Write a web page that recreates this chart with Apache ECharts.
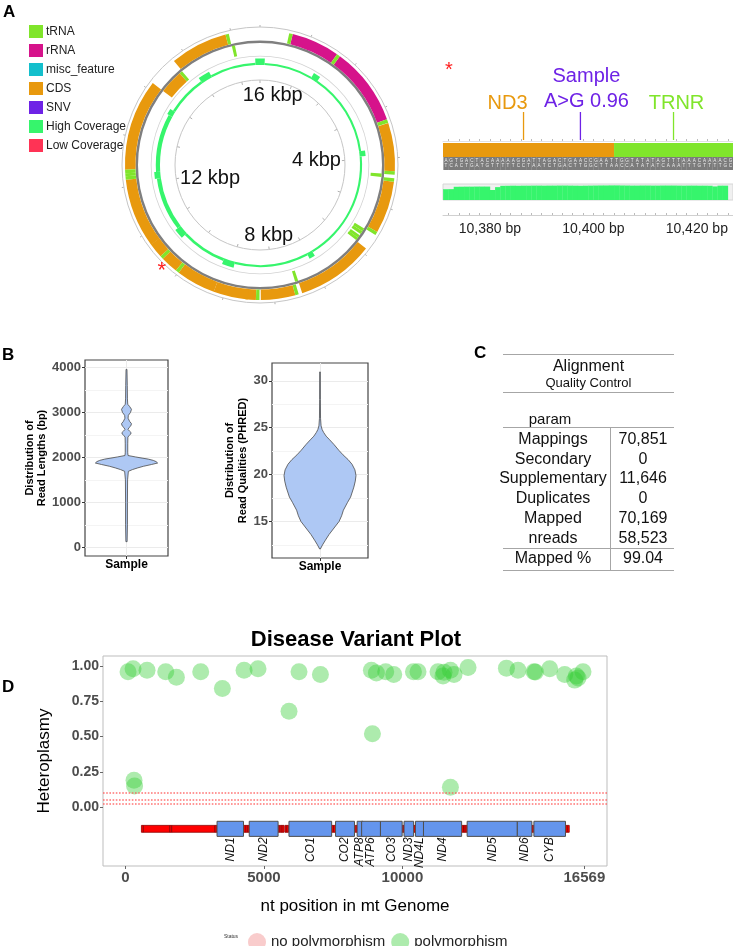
<!DOCTYPE html>
<html>
<head>
    <meta charset="UTF-8">
    <title>mtDNA sample report</title>
    <style>
        html, body {
            margin: 0;
            padding: 0;
            background: #fff;
        }

        #main {
            width: 733px;
            height: 946px;
        }
    </style>
    <script src="https://cdn.jsdelivr.net/npm/echarts@6/dist/echarts.min.js"></script>
</head>
<body>
<div id="main"></div>
<script>
    var FONT = '"Liberation Sans", Arial, sans-serif';
    var GENOME_LEN = 16569;

    // rCRS annotation
    var geneNames = ['TRNF', 'RNR1', 'TRNV', 'RNR2', 'TRNL1', 'ND1', 'TRNI', 'TRNQ', 'TRNM', 'ND2',
        'TRNW', 'TRNA', 'TRNN', 'TRNC', 'TRNY', 'CO1', 'TRNS1', 'TRND', 'CO2', 'TRNK',
        'ATP8', 'ATP6', 'CO3', 'TRNG', 'ND3', 'TRNR', 'ND4L', 'ND4', 'TRNH', 'TRNS2',
        'TRNL2', 'ND5', 'ND6', 'TRNE', 'CYB', 'TRNT', 'TRNP'];
    var geneStart = [577, 648, 1602, 1671, 3230, 3307, 4263, 4329, 4402, 4470,
        5512, 5587, 5657, 5761, 5826, 5904, 7446, 7518, 7586, 8295,
        8366, 8527, 9207, 9991, 10059, 10405, 10470, 10760, 12138, 12207,
        12266, 12337, 14149, 14674, 14747, 15888, 15956];
    var geneEnd = [647, 1601, 1670, 3229, 3304, 4262, 4331, 4400, 4469, 5511,
        5579, 5655, 5729, 5826, 5891, 7445, 7514, 7585, 8269, 8364,
        8572, 9207, 9990, 10058, 10404, 10469, 10766, 12137, 12206, 12265,
        12336, 14148, 14673, 14742, 15887, 15953, 16023];
    var geneStrand = [1, 1, 1, 1, 1, 1, 1, -1, 1, 1,
        1, -1, -1, -1, -1, 1, -1, 1, 1, 1,
        1, 1, 1, 1, 1, 1, 1, 1, 1, 1,
        1, 1, -1, -1, 1, 1, -1];
    var geneType = ['tRNA', 'rRNA', 'tRNA', 'rRNA', 'tRNA', 'CDS', 'tRNA', 'tRNA', 'tRNA', 'CDS',
        'tRNA', 'tRNA', 'tRNA', 'tRNA', 'tRNA', 'CDS', 'tRNA', 'tRNA', 'CDS', 'tRNA',
        'CDS', 'CDS', 'CDS', 'tRNA', 'CDS', 'tRNA', 'CDS', 'CDS', 'tRNA', 'tRNA',
        'tRNA', 'CDS', 'CDS', 'tRNA', 'CDS', 'tRNA', 'tRNA'];

    // coverage around the circle: segment start, end, depth
    var covStart = [0, 120, 1400, 1580, 3780, 3920, 6850, 7000, 8950, 9250, 10450, 10700, 12080, 12250, 13750, 13900, 14950, 15250, 16450];
    var covEnd = [120, 1400, 1580, 3780, 3920, 6850, 7000, 8950, 9250, 10450, 10700, 12080, 12250, 13750, 13900, 14950, 15250, 16450, 16569];
    var covDepth = [3300, 1050, 3300, 1050, 3000, 1050, 3000, 1100, 3000, 1400, 3400, 2000, 3000, 2100, 2900, 1300, 3200, 1200, 3300];
    var kbpTicks = [4000, 8000, 12000, 16000];

    // zoomed track around the variant
    var snvPos = [10398];
    var snvLabel = ['Sample\nA>G 0.96'];
    var annoNames = ['ND3', 'TRNR'];
    var annoPos = [10387, 10416];
    var annoType = ['CDS', 'tRNA'];
    var seqStart = 10372;
    var seqTop = 'AGTGACTACAAAAAGGATTAGACTGAACCGAATTGGTATATAGTTTAAACAAAACG';
    var seqBottom = 'TCACTGATGTTTTTCCTAATCTGACTTGGCTTAACCATATATCAAATTTGTTTTGC';
    var trackCovStart = 10371;
    var trackCovDepth = [1540, 1550, 1560, 1900, 1910, 1920, 1920, 1930, 1930, 1930,
        1440, 1850, 2040, 2050, 2060, 2050, 2060, 2060, 2070, 2070,
        2060, 2070, 2070, 2080, 2080, 2070, 2060, 2050, 2060, 2070,
        2080, 2090, 2090, 2100, 2100, 2090, 2080, 2070, 2070, 2080,
        2080, 2070, 2070, 2080, 2080, 2080, 2070, 2060, 2070, 2070,
        2060, 2060, 2050, 1950, 2060, 2060];
    var trackTicks = [10380, 10400, 10420];

    // violins: y value, relative density
    var lenY = [125, 500, 1000, 1500, 1689, 1727, 1765, 1800, 1840, 1873, 1905, 1932, 1960, 1983, 2010, 2040,
        2100, 2300, 2450, 2480, 2515, 2547, 2580, 2620, 2660, 2700, 2748, 2800, 2870, 2934, 3000, 3068,
        3130, 3180, 3300, 3600, 3955];
    var lenDens = [0.02, 0.03, 0.03, 0.035, 0.06, 0.19, 0.36, 0.54, 0.8, 1.0, 0.95, 0.86, 0.7, 0.5, 0.28, 0.05,
        0.04, 0.04, 0.045, 0.08, 0.13, 0.15, 0.1, 0.05, 0.08, 0.14, 0.16, 0.1, 0.05, 0.06, 0.13, 0.16,
        0.1, 0.04, 0.03, 0.025, 0.015];
    var qualY = [12.06, 12.5, 13.0, 13.6, 14.3, 15.0, 15.6, 16.2, 17.0, 17.6, 18.66, 19.3, 19.9, 20.5, 21.1,
        21.6, 22.1, 22.6, 23.2, 23.7, 24.1, 24.5, 24.8, 25.2, 26, 28, 30.95];
    var qualDens = [0.01, 0.07, 0.15, 0.25, 0.39, 0.53, 0.6, 0.65, 0.76, 0.85, 0.94, 0.98, 1.0, 0.97, 0.89,
        0.78, 0.64, 0.52, 0.39, 0.27, 0.17, 0.1, 0.06, 0.03, 0.015, 0.01, 0.008];

    // alignment QC table
    var qcParams = ['Mappings', 'Secondary', 'Supplementary', 'Duplicates', 'Mapped', 'nreads', 'Mapped %'];
    var qcValues = [70851, 0, 11646, 0, 70169, 58523, 99.04];

    // variants (position, heteroplasmy)
    var varPos = [94, 275, 780, 1455, 1840, 2718, 3500, 4283, 4787, 5906, 6267, 7040, 8880, 8917, 9061, 9397,
        9686, 10398, 10563, 11285, 11466, 11502, 11733, 11863, 12369, 13755, 14173, 14751, 14801, 15318,
        15859, 16220, 16281, 16340, 16520, 310, 330, 11733];
    var varHet = [0.96, 0.98, 0.97, 0.96, 0.92, 0.96, 0.84, 0.97, 0.98, 0.68, 0.96, 0.94, 0.97, 0.52, 0.95, 0.96,
        0.94, 0.96, 0.96, 0.96, 0.93, 0.955, 0.97, 0.94, 0.99, 0.985, 0.97, 0.96, 0.957, 0.98,
        0.94, 0.90, 0.93, 0.915, 0.96, 0.19, 0.15, 0.14];
    var hetCutoffs = [0.1, 0.05, 0.02];
    var plotTicksX = [0, 5000, 10000, 16569];
    var plotTicksY = [0, 0.25, 0.5, 0.75, 1];

    var typeColors = {
        'tRNA': '#80e52b', 'rRNA': '#d6138b', 'misc_feature': '#14bfcc', 'CDS': '#e8990e',
        'SNV': '#6e22e6', 'High Coverage': '#36f56c', 'Low Coverage': '#ff3355'
    };

    // ring radii in px (polar radius axis is 1:1 with px)
    var RING_PLUS = [124.5, 135];
    var RING_MINUS = [111, 122];
    var COV_BASE = 100;
    var COV_PX = 500;    // depth per px
    var ANNO_ALIGN = ['right', 'center'];
    var ANNO_DX = [4, 3];

    function plain(v) { return String(v); }

    function arcShape(params, api, s, e, r0, r1) {
        var cs = params.coordSys;
        var a = api.coord([r1, s]);
        var b = api.coord([r1, e]);
        var c = api.coord([r0, s]);
        var sa = Math.atan2(a[1] - cs.cy, a[0] - cs.cx);
        var ea = Math.atan2(b[1] - cs.cy, b[0] - cs.cx);
        if (e - s >= GENOME_LEN) {
            ea = sa + Math.PI * 2;
        } else {
            while (ea <= sa) ea += Math.PI * 2;
        }
        return {
            cx: cs.cx, cy: cs.cy,
            r0: Math.hypot(c[0] - cs.cx, c[1] - cs.cy),
            r: Math.hypot(a[0] - cs.cx, a[1] - cs.cy),
            startAngle: sa, endAngle: ea, clockwise: true
        };
    }

    function genesOf(type) {
        var out = [];
        for (var i = 0; i < geneNames.length; i++) {
            if (geneType[i] === type) out.push([geneStart[i], geneEnd[i], geneStrand[i]]);
        }
        return out;
    }

    function ringSeries(type) {
        return {
            type: 'custom', name: type, coordinateSystem: 'polar', polarIndex: 0, silent: true,
            itemStyle: {color: typeColors[type]},
            data: genesOf(type),
            renderItem: function (params, api) {
                var band = api.value(2) > 0 ? RING_PLUS : RING_MINUS;
                return {
                    type: 'sector',
                    shape: arcShape(params, api, api.value(0) - 1, api.value(1), band[0], band[1]),
                    style: {fill: typeColors[type]}
                };
            }
        };
    }

    function emptySeries(name, polar) {
        var s = {
            type: 'custom', name: name, silent: true, itemStyle: {color: typeColors[name]}, data: [],
            renderItem: function () { return null; }
        };
        if (polar) {
            s.coordinateSystem = 'polar';
            s.polarIndex = 0;
        }
        return s;
    }

    function violinSeries(xi, yi, ys, dens) {
        return {
            type: 'custom', xAxisIndex: xi, yAxisIndex: yi, silent: true,
            data: [[0, ys[0]]],
            renderItem: function (params, api) {
                var pts = [], i;
                for (i = 0; i < ys.length; i++) pts.push(api.coord([dens[i] * 0.75, ys[i]]));
                for (i = ys.length - 1; i >= 0; i--) pts.push(api.coord([-dens[i] * 0.75, ys[i]]));
                return {
                    type: 'polygon', shape: {points: pts},
                    style: {fill: '#aec8f4', stroke: '#4a4a4a', lineWidth: 0.8}
                };
            }
        };
    }

    var rulerTicks = [];
    for (var t = 10372; t <= 10426; t += 2) rulerTicks.push(t);

    var seqData = [];
    for (var k = 0; k < seqTop.length; k++) seqData.push([seqStart + k, k]);

    var trackCovData = trackCovDepth.map(function (d, i) { return [trackCovStart + i, d]; });
    var covData = covDepth.map(function (d, i) { return [covStart[i], covEnd[i], d]; });
    var varData = varPos.map(function (p, i) { return [p, varHet[i]]; });
    var geneAll = geneNames.map(function (n, i) { return [geneStart[i], geneEnd[i], i]; });

    var bigLabel = {fontSize: 13, fontWeight: 'bold', color: '#4d4d4d', fontFamily: FONT, formatter: plain};

    // table + panel letters as graphic elements
    var gfx = [];
    function txt(x, y, s, size, extra) {
        var st = {text: s, fontSize: size, fontFamily: FONT, fill: '#111', align: 'center', verticalAlign: 'middle'};
        for (var key in extra) st[key] = extra[key];
        gfx.push({type: 'text', x: x, y: y, style: st, silent: true});
    }
    function hline(y, x1, x2) {
        gfx.push({type: 'line', shape: {x1: x1, y1: y, x2: x2, y2: y}, style: {stroke: '#a6a6a6', lineWidth: 1}, silent: true});
    }
    txt(3, 4, 'A', 17, {fontWeight: 'bold', align: 'left', verticalAlign: 'top', fill: '#000'});
    txt(2, 347, 'B', 17, {fontWeight: 'bold', align: 'left', verticalAlign: 'top', fill: '#000'});
    txt(474, 345, 'C', 17, {fontWeight: 'bold', align: 'left', verticalAlign: 'top', fill: '#000'});
    txt(2, 679, 'D', 17, {fontWeight: 'bold', align: 'left', verticalAlign: 'top', fill: '#000'});
    txt(449, 60, '*', 20, {fill: '#ff2020', verticalAlign: 'top'});

    hline(354.5, 503, 674);
    txt(588.5, 367, 'Alignment', 16, {});
    txt(588.5, 383.5, 'Quality Control', 13, {});
    hline(392.5, 503, 674);
    txt(550, 419.5, 'param', 15, {});
    hline(427.5, 503, 674);
    qcParams.forEach(function (p, i) {
        var y = 439.3 + i * 19.8;
        txt(553, y, p, 16, {});
        txt(643, y, qcValues[i].toLocaleString('en-US'), 16, {});
    });
    hline(548.5, 503, 674);
    hline(570.5, 503, 674);
    gfx.push({type: 'line', shape: {x1: 610.5, y1: 427.5, x2: 610.5, y2: 570.5}, style: {stroke: '#a6a6a6', lineWidth: 1}, silent: true});

    txt(356, 640, 'Disease Variant Plot', 22, {fontWeight: 'bold', fill: '#000'});
    txt(231, 937, 'Status', 5, {fill: '#333'});

    var chart = echarts.init(document.getElementById('main'), null, {renderer: 'canvas'});

    var option = {
        animation: false,
        backgroundColor: '#ffffff',
        textStyle: {fontFamily: FONT},
        legend: [
            {
                data: ['tRNA', 'rRNA', 'misc_feature', 'CDS', 'SNV', 'High Coverage', 'Low Coverage'],
                orient: 'vertical', left: 24, top: 20, icon: 'rect',
                itemWidth: 14, itemHeight: 13, itemGap: 6, selectedMode: false,
                textStyle: {fontSize: 12, color: '#222', fontFamily: FONT, padding: [0, 0, 0, -2]}
            },
            {
                data: ['no polymorphism', 'polymorphism'],
                orient: 'horizontal', left: 243, top: 928, icon: 'circle',
                itemWidth: 18, itemHeight: 18, itemGap: 6, selectedMode: false,
                textStyle: {fontSize: 15, color: '#222', fontFamily: FONT}
            }
        ],
        polar: [
            {center: [260, 165], radius: 138},
            {center: [260, 165], radius: 85}
        ],
        angleAxis: [
            {
                polarIndex: 0, type: 'value', min: 0, max: GENOME_LEN, startAngle: 90, clockwise: true, interval: 1000,
                axisLine: {lineStyle: {color: '#c6c6c6', width: 1}},
                axisTick: {length: 2, lineStyle: {color: '#b0b0b0'}},
                axisLabel: {show: false}, splitLine: {show: false}
            },
            {
                polarIndex: 1, type: 'value', min: 0, max: GENOME_LEN, startAngle: 90, clockwise: true, interval: 1000,
                axisLine: {lineStyle: {color: '#c6c6c6', width: 1}},
                axisTick: {inside: true, length: 3, lineStyle: {color: '#b0b0b0'}},
                axisLabel: {show: false}, splitLine: {show: false}
            }
        ],
        radiusAxis: [
            {polarIndex: 0, type: 'value', min: 0, max: 138, show: false, splitLine: {show: false}},
            {polarIndex: 1, type: 'value', min: 0, max: 85, show: false, splitLine: {show: false}}
        ],
        grid: [
            {left: 443, right: 0, top: 141, height: 74},
            {left: 443, right: 0, top: 184, height: 16, show: true, backgroundColor: '#f0f0f0', borderColor: '#d6d6d6', borderWidth: 1},
            {left: 85, top: 360, width: 83, height: 196, show: true, borderColor: '#444', borderWidth: 1.2},
            {left: 272, top: 363, width: 96, height: 195, show: true, borderColor: '#444', borderWidth: 1.2},
            {left: 103, right: 126, top: 656, bottom: 80, show: true, borderColor: '#bdbdbd', borderWidth: 1}
        ],
        xAxis: [
            {
                gridIndex: 0, type: 'value', min: 10370.93, max: 10427.0, position: 'bottom',
                axisLine: {onZero: false, lineStyle: {color: '#d0d0d0'}},
                axisTick: {inside: true, length: 2, lineStyle: {color: '#bbb'}, customValues: rulerTicks},
                axisLabel: {
                    customValues: trackTicks, fontSize: 14, color: '#222', margin: 7,
                    formatter: function (v) { return v.toLocaleString('en-US') + ' bp'; }
                },
                splitLine: {show: false}
            },
            {
                gridIndex: 0, type: 'value', min: 10370.93, max: 10427.0, position: 'top',
                axisLine: {onZero: false, lineStyle: {color: '#e2e2e2'}},
                axisTick: {length: 2, lineStyle: {color: '#bbb'}, customValues: rulerTicks},
                axisLabel: {show: false}, splitLine: {show: false}
            },
            {gridIndex: 1, type: 'value', min: 10370.93, max: 10427.0, show: false},
            {
                gridIndex: 2, type: 'value', min: -1, max: 1, interval: 1, position: 'bottom',
                axisLine: {show: false, onZero: false},
                axisTick: {length: 3, lineStyle: {color: '#333'}, customValues: [0]},
                axisLabel: {
                    margin: 3, fontSize: 12, fontWeight: 'bold', color: '#000',
                    formatter: function (v) { return v === 0 ? 'Sample' : ''; }
                },
                splitLine: {lineStyle: {color: '#ebebeb'}}
            },
            {
                gridIndex: 3, type: 'value', min: -1, max: 1, interval: 1, position: 'bottom',
                axisLine: {show: false, onZero: false},
                axisTick: {length: 3, lineStyle: {color: '#333'}, customValues: [0]},
                axisLabel: {
                    margin: 3, fontSize: 12, fontWeight: 'bold', color: '#000',
                    formatter: function (v) { return v === 0 ? 'Sample' : ''; }
                },
                splitLine: {lineStyle: {color: '#ebebeb'}}
            },
            {
                gridIndex: 4, type: 'value', min: -810, max: 17386, position: 'bottom',
                axisLine: {show: false, onZero: false},
                axisTick: {length: 3, lineStyle: {color: '#666'}, customValues: plotTicksX},
                axisLabel: {customValues: plotTicksX, margin: 4, fontSize: 15, fontWeight: 'bold', color: '#4d4d4d', formatter: plain},
                splitLine: {show: false},
                name: 'nt position in mt Genome', nameLocation: 'middle', nameGap: 32,
                nameTextStyle: {fontSize: 17, color: '#000'}
            }
        ],
        yAxis: [
            {gridIndex: 0, type: 'value', inverse: true, min: 0, max: 74, show: false},
            {gridIndex: 1, type: 'value', min: 0, max: 2300, show: false},
            {
                gridIndex: 2, type: 'value', min: -194, max: 4164, splitNumber: 4, position: 'left',
                axisLine: {show: false, onZero: false},
                axisTick: {length: 3, lineStyle: {color: '#333'}, customValues: [0, 1000, 2000, 3000, 4000]},
                axisLabel: Object.assign({margin: 4, showMinLabel: false, showMaxLabel: false}, bigLabel),
                splitLine: {lineStyle: {color: '#ebebeb'}},
                minorTick: {show: false, splitNumber: 2},
                minorSplitLine: {show: true, lineStyle: {color: '#f4f4f4'}},
                name: 'Distribution of\nRead Lengths (bp)', nameLocation: 'middle', nameRotate: 90, nameGap: 27,
                nameTextStyle: {fontSize: 11, fontWeight: 'bold', color: '#000', lineHeight: 12}
            },
            {
                gridIndex: 3, type: 'value', min: 11.1, max: 31.9, splitNumber: 4, position: 'left',
                axisLine: {show: false, onZero: false},
                axisTick: {length: 3, lineStyle: {color: '#333'}, customValues: [15, 20, 25, 30]},
                axisLabel: Object.assign({margin: 4, showMinLabel: false, showMaxLabel: false}, bigLabel),
                splitLine: {lineStyle: {color: '#ebebeb'}},
                minorTick: {show: false, splitNumber: 2},
                minorSplitLine: {show: true, lineStyle: {color: '#f4f4f4'}},
                name: 'Distribution of\nRead Qualities (PHRED)', nameLocation: 'middle', nameRotate: 90, nameGap: 12,
                nameTextStyle: {fontSize: 11, fontWeight: 'bold', color: '#000', lineHeight: 13}
            },
            {
                gridIndex: 4, type: 'value', min: -0.418, max: 1.071, position: 'left',
                axisLine: {show: false, onZero: false},
                axisTick: {length: 3, lineStyle: {color: '#666'}, customValues: plotTicksY},
                axisLabel: {
                    customValues: plotTicksY, margin: 4, fontSize: 14, fontWeight: 'bold', color: '#4d4d4d',
                    formatter: function (v) { return v.toFixed(2); }
                },
                splitLine: {show: false},
                name: 'Heteroplasmy', nameLocation: 'middle', nameRotate: 90, nameGap: 50,
                nameTextStyle: {fontSize: 17, color: '#000'}
            }
        ],
        series: [
            // ---- circular genome map
            {
                type: 'custom', coordinateSystem: 'polar', polarIndex: 0, silent: true,
                data: [[0, GENOME_LEN]],
                renderItem: function (params, api) {
                    return {
                        type: 'group', children: [
                            {type: 'sector', shape: arcShape(params, api, api.value(0), api.value(1), 122, 124.5), style: {fill: '#7f7f7f'}},
                            {type: 'sector', shape: arcShape(params, api, api.value(0), api.value(1), 108.5, 109.3), style: {fill: '#d2d2d2'}}
                        ]
                    };
                }
            },
            ringSeries('CDS'),
            ringSeries('rRNA'),
            ringSeries('tRNA'),
            emptySeries('misc_feature', true),
            {
                type: 'custom', name: 'High Coverage', coordinateSystem: 'polar', polarIndex: 0, silent: true,
                itemStyle: {color: typeColors['High Coverage']},
                data: covData,
                renderItem: function (params, api) {
                    return {
                        type: 'sector',
                        shape: arcShape(params, api, api.value(0), api.value(1), COV_BASE, COV_BASE + api.value(2) / COV_PX),
                        style: {fill: typeColors['High Coverage']}
                    };
                }
            },
            emptySeries('Low Coverage', true),
            {
                type: 'custom', coordinateSystem: 'polar', polarIndex: 1, silent: true,
                data: kbpTicks.map(function (v) { return [v]; }),
                renderItem: function (params, api) {
                    var cs = params.coordSys;
                    var v = api.value(0);
                    var p = api.coord([81, v]);
                    var dx = p[0] - cs.cx, dy = p[1] - cs.cy, rr = Math.hypot(dx, dy);
                    var align = Math.abs(dx) / rr < 0.15 ? 'center' : (dx > 0 ? 'right' : 'left');
                    var valign = Math.abs(dy) / rr < 0.3 ? 'middle' : (dy > 0 ? 'bottom' : 'top');
                    return {
                        type: 'text', x: p[0], y: p[1],
                        style: {text: (v / 1000) + ' kbp', fontSize: 20, fontFamily: FONT, fill: '#111', align: align, verticalAlign: valign}
                    };
                }
            },
            {
                type: 'custom', coordinateSystem: 'polar', polarIndex: 0, silent: true,
                data: snvPos.map(function (p) { return [p]; }),
                renderItem: function (params, api) {
                    var p = api.coord([141, api.value(0)]);
                    return {
                        type: 'text', x: p[0] + 3, y: p[1] - 3,
                        style: {text: '*', fontSize: 22, fontFamily: FONT, fill: '#ff2020', align: 'center', verticalAlign: 'top'}
                    };
                }
            },

            // ---- zoomed linear track
            {
                type: 'custom', xAxisIndex: 0, yAxisIndex: 0, silent: true, clip: true,
                data: geneAll,
                renderItem: function (params, api) {
                    var i = api.value(2);
                    var a = api.coord([api.value(0) - 1, 2]);
                    var b = api.coord([api.value(1), 16]);
                    return {
                        type: 'rect', shape: {x: a[0], y: a[1], width: b[0] - a[0], height: b[1] - a[1]},
                        style: {fill: typeColors[geneType[i]]}
                    };
                }
            },
            {
                type: 'custom', xAxisIndex: 0, yAxisIndex: 0, silent: true, clip: true,
                data: seqData,
                renderItem: function (params, api) {
                    var i = api.value(1);
                    var a = api.coord([api.value(0) - 1, 16]);
                    var b = api.coord([api.value(0), 29]);
                    var cx = (a[0] + b[0]) / 2;
                    var tStyle = {fontSize: 4.6, fontFamily: FONT, fill: '#ececec', align: 'center', verticalAlign: 'middle'};
                    return {
                        type: 'group', children: [
                            {type: 'rect', shape: {x: a[0], y: a[1], width: b[0] - a[0] + 0.3, height: b[1] - a[1]}, style: {fill: '#7b7b7b'}},
                            {type: 'text', x: cx, y: api.coord([0, 19.7])[1], style: Object.assign({text: seqTop.charAt(i)}, tStyle)},
                            {type: 'text', x: cx, y: api.coord([0, 25])[1], style: Object.assign({text: seqBottom.charAt(i)}, tStyle)}
                        ]
                    };
                }
            },
            {
                type: 'custom', xAxisIndex: 0, yAxisIndex: 0, silent: true,
                data: annoPos.map(function (p, i) { return [p, i]; }),
                renderItem: function (params, api) {
                    var i = api.value(1);
                    var x = api.coord([api.value(0) - 0.5, 0])[0];
                    var y0 = api.coord([0, -1])[1], y1 = api.coord([0, -29])[1];
                    var color = typeColors[annoType[i]];
                    return {
                        type: 'group', children: [
                            {type: 'line', shape: {x1: x, y1: y0, x2: x, y2: y1}, style: {stroke: color, lineWidth: 1.3}},
                            {type: 'text', x: x + ANNO_DX[i], y: y1 + 1, style: {text: annoNames[i], fill: color, fontSize: 20, fontFamily: FONT, align: ANNO_ALIGN[i], verticalAlign: 'bottom'}}
                        ]
                    };
                }
            },
            {
                type: 'custom', name: 'SNV', xAxisIndex: 0, yAxisIndex: 0, silent: true,
                itemStyle: {color: typeColors['SNV']},
                data: snvPos.map(function (p, i) { return [p, i]; }),
                renderItem: function (params, api) {
                    var i = api.value(1);
                    var x = api.coord([api.value(0) - 0.5, 0])[0];
                    var y0 = api.coord([0, -1])[1], y1 = api.coord([0, -29])[1];
                    var color = typeColors['SNV'];
                    return {
                        type: 'group', children: [
                            {type: 'line', shape: {x1: x, y1: y0, x2: x, y2: y1}, style: {stroke: color, lineWidth: 1.3}},
                            {type: 'text', x: x + 6, y: y1 + 2, style: {text: snvLabel[i], fill: color, fontSize: 20, lineHeight: 25, fontFamily: FONT, align: 'center', verticalAlign: 'bottom'}}
                        ]
                    };
                }
            },
            {
                type: 'custom', xAxisIndex: 2, yAxisIndex: 1, silent: true, clip: true,
                data: trackCovData,
                renderItem: function (params, api) {
                    var a = api.coord([api.value(0) - 1, api.value(1)]);
                    var b = api.coord([api.value(0), 0]);
                    return {
                        type: 'rect', shape: {x: a[0], y: a[1], width: b[0] - a[0] + 0.3, height: b[1] - a[1]},
                        style: {fill: typeColors['High Coverage']}
                    };
                }
            },

            // ---- violins
            violinSeries(3, 2, lenY, lenDens),
            violinSeries(4, 3, qualY, qualDens),

            // ---- disease variant plot
            {
                type: 'custom', xAxisIndex: 5, yAxisIndex: 4, silent: true,
                data: geneAll.filter(function (g) { return geneType[g[2]] !== 'CDS'; }),
                renderItem: function (params, api) {
                    var a = api.coord([api.value(0), -0.130]);
                    var b = api.coord([api.value(1), -0.179]);
                    return {
                        type: 'rect', shape: {x: a[0], y: a[1], width: Math.max(b[0] - a[0], 1), height: b[1] - a[1]},
                        style: {fill: '#ff0000', stroke: '#8b0000', lineWidth: 0.8}
                    };
                }
            },
            {
                type: 'custom', xAxisIndex: 5, yAxisIndex: 4, silent: true,
                data: geneAll.filter(function (g) { return geneType[g[2]] === 'CDS'; }),
                renderItem: function (params, api) {
                    var i = api.value(2);
                    var a = api.coord([api.value(0), -0.101]);
                    var b = api.coord([api.value(1), -0.208]);
                    var ly = api.coord([0, -0.215])[1];
                    return {
                        type: 'group', children: [
                            {type: 'rect', shape: {x: a[0], y: a[1], width: b[0] - a[0], height: b[1] - a[1]}, style: {fill: '#6495ed', stroke: '#4f4f4f', lineWidth: 1}},
                            {
                                type: 'text', x: (a[0] + b[0]) / 2, y: ly, rotation: Math.PI / 2,
                                style: {text: geneNames[i], fontSize: 12, fontStyle: 'italic', fontFamily: FONT, fill: '#111', align: 'right', verticalAlign: 'middle'}
                            }
                        ]
                    };
                }
            },
            {
                type: 'scatter', name: 'no polymorphism', xAxisIndex: 5, yAxisIndex: 4,
                symbolSize: 17, itemStyle: {color: 'rgba(240,128,128,0.5)'}, data: []
            },
            {
                type: 'scatter', name: 'polymorphism', xAxisIndex: 5, yAxisIndex: 4,
                symbolSize: 17, itemStyle: {color: 'rgba(50,205,50,0.5)'}, data: varData, silent: true,
                markLine: {
                    silent: true, symbol: 'none', label: {show: false},
                    lineStyle: {type: 'dotted', color: 'rgba(255,90,90,0.85)', width: 1.6},
                    data: hetCutoffs.map(function (v) { return {yAxis: v}; })
                }
            }
        ],
        graphic: {elements: gfx}
    };

    chart.setOption(option);
</script>
</body>
</html>
